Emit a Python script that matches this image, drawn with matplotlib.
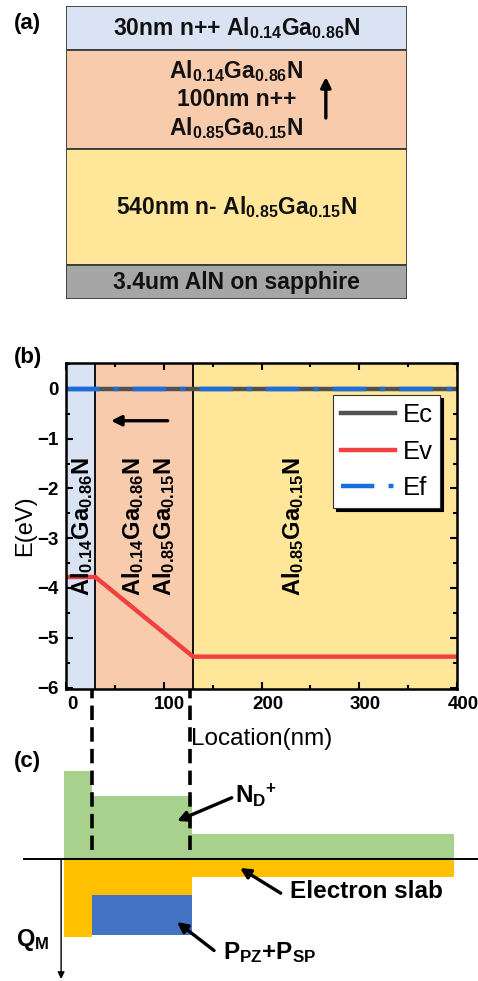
import numpy as np
import matplotlib
matplotlib.use("Agg")
from matplotlib import pyplot as plt
from matplotlib.ticker import MultipleLocator
from matplotlib.transforms import ScaledTranslation

plt.rcParams['font.family'] = ['Liberation Sans', 'DejaVu Sans']
plt.rcParams['mathtext.fontset'] = 'custom'
plt.rcParams['mathtext.rm'] = 'Liberation Sans:bold'
plt.rcParams['mathtext.it'] = 'Liberation Sans:bold'
plt.rcParams['mathtext.bf'] = 'Liberation Sans:bold'

# ---- panel (a): layer stack, top to bottom (drawn heights, not to scale)
layer_text = [r'30nm n++ Al$_{0.14}$Ga$_{0.86}$N',
              'Al$_{0.14}$Ga$_{0.86}$N\n100nm n++\nAl$_{0.85}$Ga$_{0.15}$N',
              r'540nm n- Al$_{0.85}$Ga$_{0.15}$N',
              '3.4um AlN on sapphire']
layer_drawn = [44, 99, 116, 34]
layer_colors = ['#dae3f3', '#f8cbad', '#ffe699', '#a6a6a6']

# ---- panel (b): band diagram
region_edges = [0, 30, 130, 400]
region_colors = ['#dae3f3', '#f8cbad', '#ffe699']
region_labels = [r'Al$_{0.14}$Ga$_{0.86}$N',
                 'Al$_{0.14}$Ga$_{0.86}$N\nAl$_{0.85}$Ga$_{0.15}$N',
                 r'Al$_{0.85}$Ga$_{0.15}$N']
location = [0, 30, 130, 400]
ec = [0, 0, 0, 0]
ev = [-3.78, -3.78, -5.38, -5.38]
ef = [0, 0, 0, 0]

# ---- panel (c): charge sketch
c_edges = [-2, 27, 129, 397]
nd_plus = [88, 63, 25]
electron_slab = [78, 36, 18]
polarization = [0, 40, 0]

W, H = 478, 981
fig = plt.figure(figsize=(W / 100, H / 100), dpi=100)

def px_rect(x0, y0, x1, y1):
    return [x0 / W, 1 - y1 / H, (x1 - x0) / W, (y1 - y0) / H]

# (a)
ax_a = fig.add_axes(px_rect(66, 6, 407, 299))
bottoms = np.cumsum([0] + layer_drawn[::-1])[:-1][::-1]
ax_a.bar([0.5] * 4, layer_drawn, bottom=bottoms, width=1.0, color=layer_colors,
         edgecolor='#3a3a3a', linewidth=1.3)
ax_a.set_xlim(0, 1)
ax_a.set_ylim(0, sum(layer_drawn))
ax_a.axis('off')
for txt, b, h in zip(layer_text, bottoms, layer_drawn):
    ax_a.text(0.5, b + h / 2, txt, ha='center', va='center', fontsize=16.5,
              fontweight='bold', linespacing=1.2, color='#111111')
ax_a.annotate('', xy=(0.762, 222), xytext=(0.762, 181),
              arrowprops=dict(arrowstyle='-|>', color='black', lw=2.4,
                              mutation_scale=15, shrinkA=0, shrinkB=0))
fig.text(14 / W, 1 - 24 / H, '(a)', fontsize=16, fontweight='bold', va='center')

# (b)
ax_b = fig.add_axes(px_rect(66, 363, 457, 689))
for x0, x1, c in zip(region_edges[:-1], region_edges[1:], region_colors):
    ax_b.axvspan(x0, x1, color=c, lw=0)
for x in region_edges[1:-1]:
    ax_b.axvline(x, color='black', lw=1.3)
ax_b.plot(location, ec, color='#515151', lw=3.2, label='Ec')
ax_b.plot(location, ev, color='#f14040', lw=3.2, label='Ev')
ax_b.plot(location, ef, color='#1a6fdf', lw=3.2, label='Ef',
          linestyle=(0, (7.5, 3.2, 1.1, 3.2)), dash_capstyle='butt')
ax_b.set_xlim(0, 400)
ax_b.set_ylim(-6.03, 0.52)
ax_b.xaxis.set_major_locator(MultipleLocator(100))
ax_b.xaxis.set_minor_locator(MultipleLocator(50))
ax_b.yaxis.set_major_locator(MultipleLocator(1))
ax_b.yaxis.set_minor_locator(MultipleLocator(0.5))
ax_b.tick_params(which='both', direction='in', top=True, right=True, width=1.5)
ax_b.tick_params(which='major', length=5, labelsize=13.5, pad=5)
ax_b.tick_params(which='minor', length=3)
shift = ScaledTranslation(6 / 100, 0, fig.dpi_scale_trans)
for lab in ax_b.get_xticklabels():
    lab.set_fontweight('bold')
    lab.set_transform(lab.get_transform() + shift)
for lab in ax_b.get_yticklabels():
    lab.set_fontweight('bold')
for s in ax_b.spines.values():
    s.set_linewidth(1.8)
ax_b.set_xlabel('Location(nm)', fontsize=17.5, labelpad=11)
ax_b.set_ylabel('E(eV)', fontsize=17, labelpad=1)
label_x = [16, 84, 232]
for x, txt in zip(label_x, region_labels):
    ax_b.text(x, -2.76, txt, rotation=90, ha='center', va='center', fontsize=17,
              fontweight='bold', linespacing=1.25)
ax_b.annotate('', xy=(46, -0.64), xytext=(104, -0.64),
              arrowprops=dict(arrowstyle='-|>', color='black', lw=2.4,
                              mutation_scale=15, shrinkA=0, shrinkB=0))
leg = ax_b.legend(loc='upper left', bbox_to_anchor=(0.683, 0.902), borderaxespad=0,
                  fontsize=18.5, fancybox=False, edgecolor='#333333', framealpha=1,
                  shadow={'color': 'black', 'alpha': 1}, handlelength=2.1,
                  handletextpad=0.3, labelspacing=0.5, borderpad=0.3)
leg.get_frame().set_linewidth(0.8)
fig.text(14 / W, 1 - 357 / H, '(b)', fontsize=16, fontweight='bold', va='center')

# (c)
ax_c = fig.add_axes(px_rect(66, 740, 457, 981))
ax_c.set_xlim(0, 400)
ax_c.set_ylim(-122, 119)
ax_c.axis('off')
widths = np.diff(c_edges)
ax_c.bar(c_edges[:-1], nd_plus, width=widths, align='edge', color='#a9d18e', lw=0,
         clip_on=False)
ax_c.bar(c_edges[:-1], [-v for v in electron_slab], width=widths, align='edge',
         color='#ffc000', lw=0, clip_on=False)
ax_c.bar(c_edges[:-1], [-v for v in polarization], width=widths, align='edge',
         bottom=[-v for v in electron_slab], color='#4472c4', lw=0, clip_on=False)
ax_c.plot([-43, 425], [0, 0], color='black', lw=1.4, clip_on=False)
for x in [27, 127]:
    ax_c.plot([x, x], [9, 170], color='black', lw=2.6, linestyle=(0, (4, 2)),
              clip_on=False)
ax_c.annotate('', xy=(-5, -120), xytext=(-5, 0),
              arrowprops=dict(arrowstyle='-|>', color='black', lw=1.0,
                              mutation_scale=10, shrinkA=0, shrinkB=0),
              annotation_clip=False)
ax_c.text(-34, -81, r'Q$_{\mathrm{M}}$', fontsize=17, fontweight='bold',
          ha='center', va='center')
arrow_kw = dict(arrowstyle='-|>', color='black', lw=2.4, mutation_scale=15,
                shrinkA=0, shrinkB=0)
ax_c.annotate(r'N$_{\mathrm{D}}$$^{+}$', xy=(113.6, 38), xytext=(173, 64),
              fontsize=17.5, fontweight='bold', va='center', ha='left',
              arrowprops=dict(arrow_kw, relpos=(-0.08, 0.4)), annotation_clip=False)
ax_c.annotate('Electron slab', xy=(178, -9), xytext=(229, -33),
              fontsize=17.5, fontweight='bold', va='center', ha='left',
              arrowprops=dict(arrow_kw, relpos=(-0.06, 0.45)), annotation_clip=False)
ax_c.annotate(r'P$_{\mathrm{PZ}}$+P$_{\mathrm{SP}}$', xy=(113.6, -63), xytext=(161, -94),
              fontsize=17.5, fontweight='bold', va='center', ha='left',
              arrowprops=dict(arrow_kw, relpos=(-0.1, 0.6)), annotation_clip=False)
fig.text(14 / W, 1 - 762 / H, '(c)', fontsize=16, fontweight='bold', va='center')

fig.savefig('out.png', dpi=100)
